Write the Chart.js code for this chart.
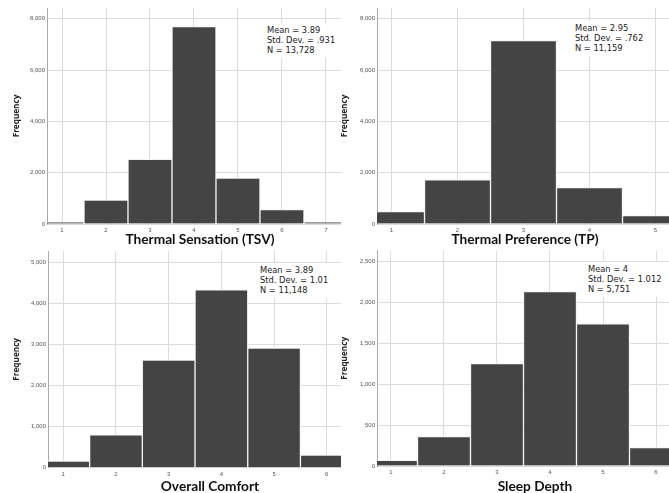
<!DOCTYPE html>
<html>
<head>
<meta charset="utf-8">
<script src="https://cdn.jsdelivr.net/npm/chart.js@4.4.0/dist/chart.umd.min.js"></script>
<style>
  html, body { margin: 0; padding: 0; background: #fff; }
  body { position: relative; width: 669px; height: 493px; overflow: hidden; }
  .wrap { position: absolute; overflow: hidden; }
  .wrap canvas { position: absolute; left: 0; top: 0; }
  .stats { position: absolute; background: #fff; font: 8.3px/9.8px "DejaVu Sans", sans-serif;
           color: #222; padding: 3px 2px; white-space: nowrap; }
  .cap { position: absolute; font: bold 20px/20px "Open Sans", sans-serif; color: #000; white-space: nowrap; }
</style>
</head>
<body>

<div class="cap" style="left:14px;top:-23px">quency</div>
<div class="cap" style="left:356px;top:-22px">g</div>

<div class="wrap" style="left:0;top:0;width:341px;height:250px"><canvas id="tsv" width="353" height="250"></canvas></div>
<div class="wrap" style="left:330px;top:0;width:339px;height:250px"><canvas id="tp" width="343" height="250"></canvas></div>
<div class="wrap" style="left:0;top:245px;width:341px;height:248px"><canvas id="comfort" width="372" height="252"></canvas></div>
<div class="wrap" style="left:330px;top:245px;width:339px;height:248px"><canvas id="sleep" width="363" height="252"></canvas></div>

<div class="stats" id="tsvStats" style="left:265px;top:23px"></div>
<div class="stats" id="tpStats" style="left:573px;top:21px"></div>
<div class="stats" id="comfortStats" style="left:258px;top:263px"></div>
<div class="stats" id="sleepStats" style="left:586px;top:262px"></div>

<script>
// histogram counts
var tsvCats = [1, 2, 3, 4, 5, 6, 7];
var tsvCounts = [80, 930, 2520, 7700, 1790, 560, 70];
var tsvTicks = [0, 2000, 4000, 6000, 8000];
var tsvStats = ["Mean = 3.89", "Std. Dev. = .931", "N = 13,728"];

var tpCats = [1, 2, 3, 4, 5];
var tpCounts = [480, 1720, 7150, 1420, 330];
var tpTicks = [0, 2000, 4000, 6000, 8000];
var tpStats = ["Mean = 2.95", "Std. Dev. = .762", "N = 11,159"];

var comfortCats = [1, 2, 3, 4, 5, 6];
var comfortCounts = [160, 800, 2620, 4330, 2910, 310];
var comfortTicks = [0, 1000, 2000, 3000, 4000, 5000];
var comfortStats = ["Mean = 3.89", "Std. Dev. = 1.01", "N = 11,148"];

var sleepCats = [1, 2, 3, 4, 5, 6];
var sleepCounts = [70, 360, 1250, 2130, 1735, 225];
var sleepTicks = [0, 500, 1000, 1500, 2000, 2500];
var sleepStats = ["Mean = 4", "Std. Dev. = 1.012", "N = 5,751"];

function histogram(id, cats, counts, yTicks, title, xMin, xMax, yMax, padTop, yWidth, xHeight, yTitleGap) {
    new Chart(document.getElementById(id), {
        type: 'bar',
        data: {
            datasets: [{
                data: cats.map(function (c, i) { return {x: c, y: counts[i]}; }),
                backgroundColor: '#444444',
                borderColor: '#f2f2f2',
                borderWidth: 1,
                barPercentage: 1,
                categoryPercentage: 1,
                clip: 0
            }]
        },
        options: {
            responsive: false,
            animation: false,
            layout: { padding: { top: padTop, left: 0, right: 0, bottom: 0 } },
            plugins: { legend: { display: false }, tooltip: { enabled: false } },
            scales: {
                x: {
                    type: 'linear', min: xMin, max: xMax, offset: false,
                    grid: { color: '#dcdcdc', drawTicks: false, offset: false },
                    border: { display: false },
                    ticks: { padding: 3, autoSkip: false, maxRotation: 0, font: { size: 6 }, color: '#555' },
                    afterBuildTicks: function (s) { s.ticks = cats.map(function (c) { return {value: c}; }); },
                    title: { display: true, text: title, color: '#111',
                             font: { family: 'Lato', weight: 'bold', size: 13.7 },
                             padding: { top: 0, bottom: 2.6 } },
                    afterFit: function (s) { s.height = xHeight; }
                },
                y: {
                    min: 0, max: yMax,
                    grid: { color: '#dcdcdc', drawTicks: false },
                    border: { color: '#aaaaaa' },
                    ticks: { padding: 2, font: { size: 6 }, color: '#555',
                             callback: function (v) { return v.toLocaleString('en-US'); } },
                    afterBuildTicks: function (s) { s.ticks = yTicks.map(function (v) { return {value: v}; }); },
                    title: { display: true, text: 'Frequency', color: '#222',
                             font: { family: 'Open Sans', weight: 'bold', size: 8.2 },
                             padding: { top: yTitleGap, bottom: 0 } },
                    afterFit: function (s) { s.width = yWidth; }
                }
            }
        }
    });
}

function stats(id, lines) {
    document.getElementById(id).innerHTML = lines.join('<br>');
}

histogram('tsv', tsvCats, tsvCounts, tsvTicks, 'Thermal Sensation (TSV)', 0.659, 7.614, 8421, 8, 47, 26, 12);
histogram('tp', tpCats, tpCounts, tpTicks, 'Thermal Preference (TP)', 0.780, 5.265, 8421, 8, 47, 26, 10);
histogram('comfort', comfortCats, comfortCounts, comfortTicks, 'Overall Comfort', 0.710, 6.858, 5272, 6, 48, 29.3, 12);
histogram('sleep', sleepCats, sleepCounts, sleepTicks, 'Sleep Depth', 0.736, 6.698, 2630, 5, 47, 31, 10);

stats('tsvStats', tsvStats);
stats('tpStats', tpStats);
stats('comfortStats', comfortStats);
stats('sleepStats', sleepStats);
</script>
</body>
</html>
